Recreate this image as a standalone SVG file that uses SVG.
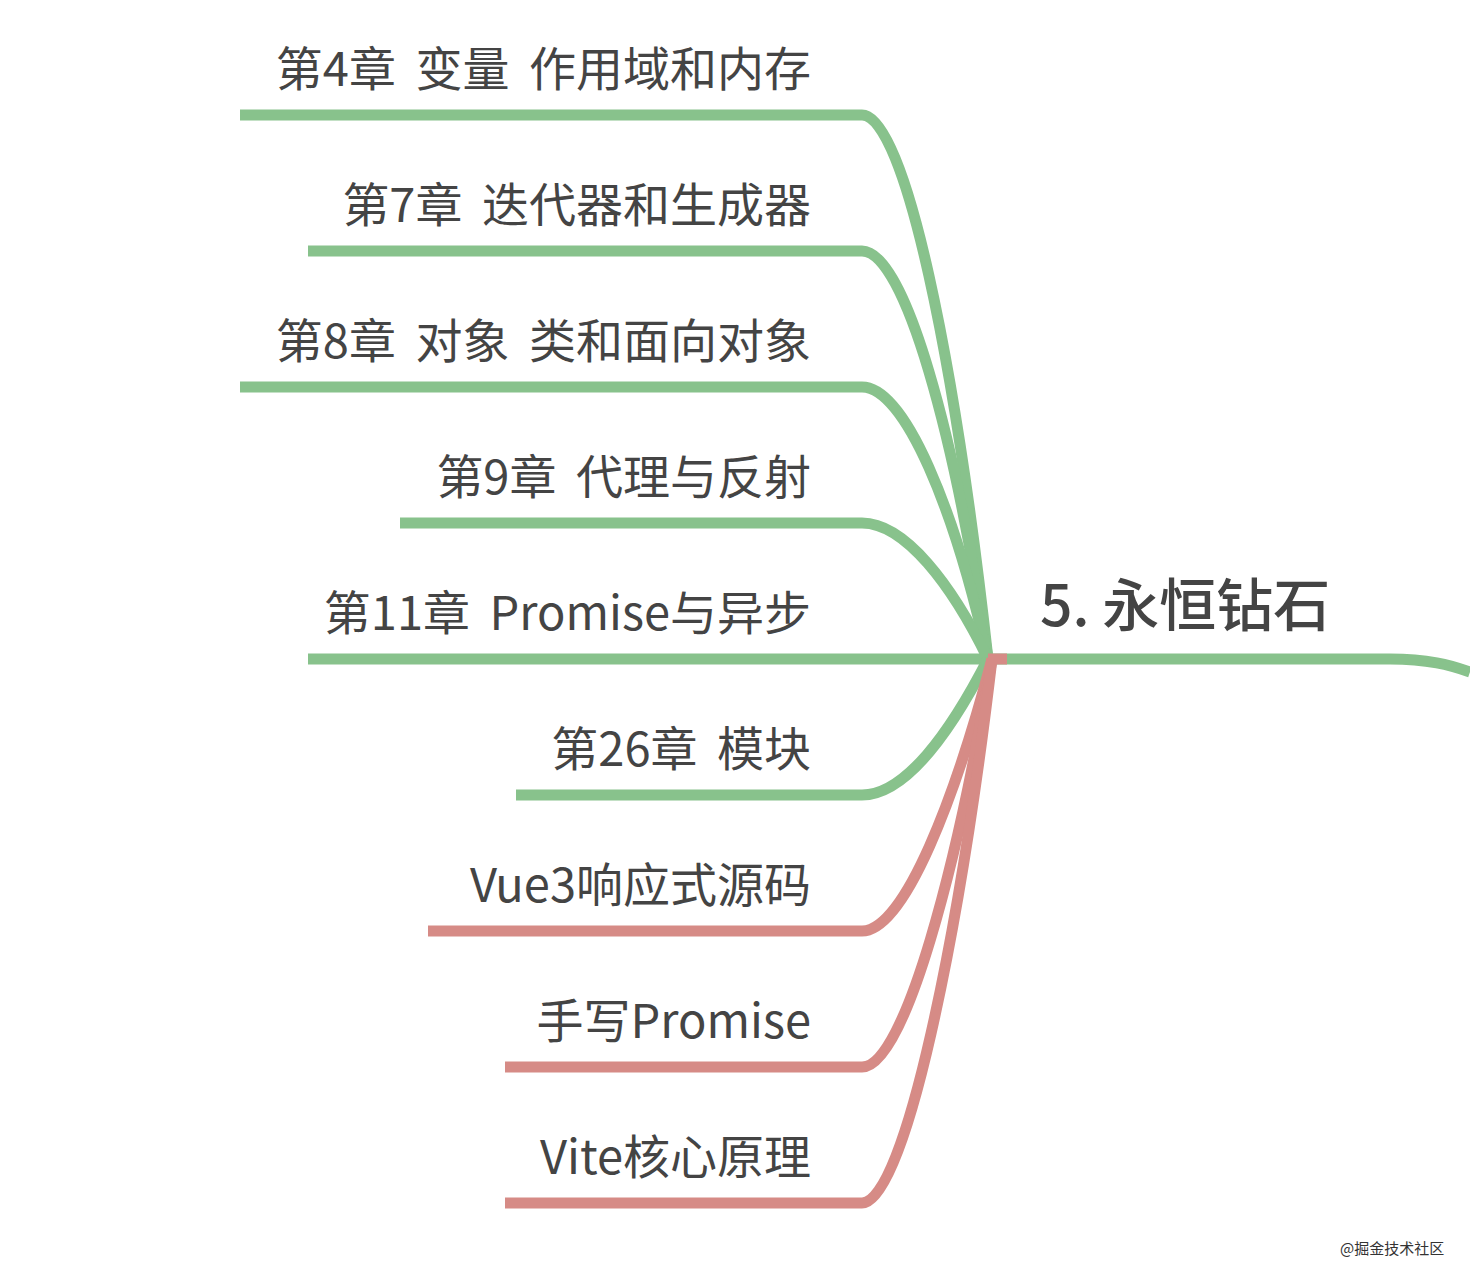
<svg xmlns="http://www.w3.org/2000/svg" width="1470" height="1282" viewBox="0 0 1470 1282">
<style>
.g{fill:none;stroke:#88C28C;stroke-width:11;stroke-linecap:butt;stroke-linejoin:round}
.r{fill:none;stroke:#D68B86;stroke-width:11;stroke-linecap:butt;stroke-linejoin:round}
.t{font-family:"Noto Sans CJK SC","Noto Sans",sans-serif;font-size:47px;word-spacing:9px;fill:#444444;text-anchor:end}
.h{font-family:"Noto Sans CJK SC","Noto Sans",sans-serif;font-size:57px;font-weight:500;fill:#444444}
.w{font-family:"Noto Sans CJK SC",sans-serif;font-size:15px;fill:#333333}
</style>
<rect width="1470" height="1282" fill="#ffffff"/>
<g id="connectors">
<path class="g" d="M988,659 H1390 C1428,659 1450,665 1470,672"/>
<path class="g" d="M240,115 H862 C905,115 955,360 988,659"/>
<path class="g" d="M308,251 H862 C905,251 955,435 988,659"/>
<path class="g" d="M240,387 H862 C905,387 955,510 988,659"/>
<path class="g" d="M400,523 H862 C905,523 952,585 988,659"/>
<path class="g" d="M308,659 H988"/>
<path class="g" d="M516,795 H862 C905,795 950,733 988,659"/>
<path class="r" d="M428,931 H862 C905,931 956,795 992,659"/>
<path class="r" d="M505,1067 H862 C905,1067 958,863 992,659"/>
<path class="r" d="M505,1203 H862 C905,1203 960,931 992,659"/>
<path class="r" d="M988,659 H1007"/>
</g>
<g id="root"><text class="h" x="1040" y="626">5. 永恒钻石</text></g>
<g id="n1"><text class="t" x="811" y="86">第4章 变量 作用域和内存</text></g>
<g id="n2"><text class="t" x="811" y="222">第7章 迭代器和生成器</text></g>
<g id="n3"><text class="t" x="811" y="358">第8章 对象 类和面向对象</text></g>
<g id="n4"><text class="t" x="811" y="494">第9章 代理与反射</text></g>
<g id="n5"><text class="t" x="811" y="630">第11章 Promise与异步</text></g>
<g id="n6"><text class="t" x="811" y="766">第26章 模块</text></g>
<g id="n7"><text class="t" x="811" y="902">Vue3响应式源码</text></g>
<g id="n8"><text class="t" x="811" y="1038">手写Promise</text></g>
<g id="n9"><text class="t" x="811" y="1174">Vite核心原理</text></g>
<text class="w" x="1340" y="1254">@掘金技术社区</text>
</svg>
